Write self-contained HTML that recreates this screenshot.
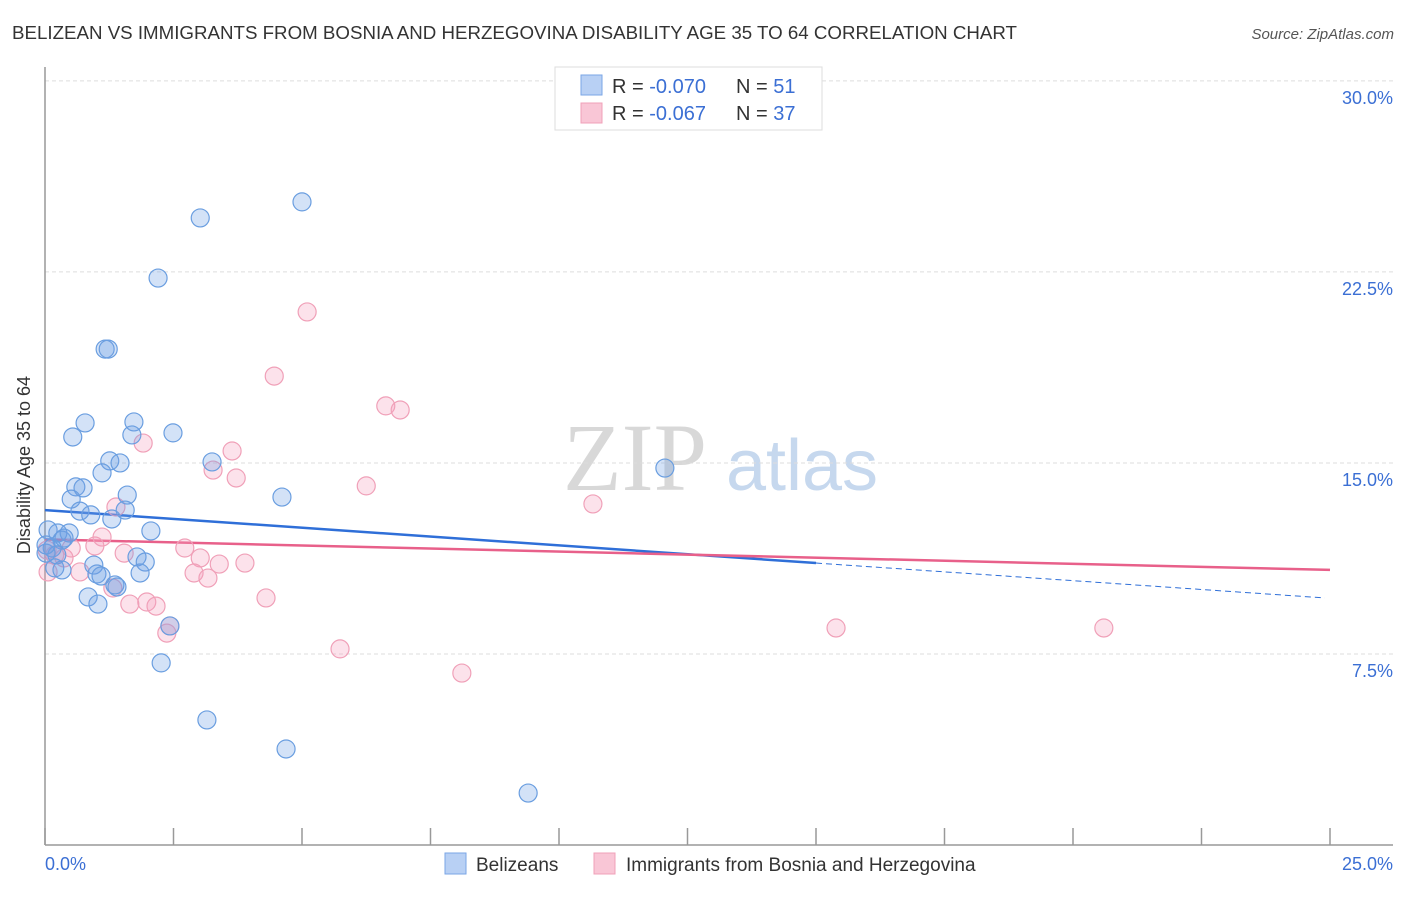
<!DOCTYPE html>
<html><head><meta charset="utf-8"><style>
body{margin:0;background:#fff;font-family:"Liberation Sans",sans-serif;}
</style></head><body>
<svg id="chart" width="1406" height="892" viewBox="0 0 1406 892" xmlns="http://www.w3.org/2000/svg">
<text x="12" y="39" font-size="18" fill="#333" textLength="1005" lengthAdjust="spacingAndGlyphs">BELIZEAN VS IMMIGRANTS FROM BOSNIA AND HERZEGOVINA DISABILITY AGE 35 TO 64 CORRELATION CHART</text>
<text x="1394" y="39" font-size="15" fill="#555" font-style="italic" text-anchor="end">Source: ZipAtlas.com</text>
<g>
<text x="635" y="490" font-size="96" font-family="Liberation Serif,serif" fill="#d8d8d8" text-anchor="middle">ZIP</text>
<text x="802" y="490" font-size="72" fill="#c6d8ee" text-anchor="middle">atlas</text>
</g>
<g id="grid"></g>
<g id="axes"></g>
<g id="trends"></g>
<g id="points"></g>
<text x="20" y="455" font-size="18" fill="#333" text-anchor="middle" transform="rotate(-90 30 455)">Disability Age 35 to 64</text>
<text x="45" y="870" font-size="18" fill="#3b6fd4">0.0%</text>
<text x="1393" y="870" font-size="18" fill="#3b6fd4" text-anchor="end">25.0%</text>
<g>
<rect x="555" y="67" width="267" height="63" fill="#fff" stroke="#ddd"/>
<rect x="581" y="75" width="21" height="20" fill="#b8d0f4" stroke="#7aa6e6"/>
<rect x="581" y="103" width="21" height="20" fill="#f9c6d6" stroke="#f0a0b8"/>
<text x="612" y="93" font-size="20" fill="#333">R = <tspan fill="#3b6fd4">-0.070</tspan><tspan x="736">N = </tspan><tspan fill="#3b6fd4">51</tspan></text>
<text x="612" y="120" font-size="20" fill="#333">R = <tspan fill="#3b6fd4">-0.067</tspan><tspan x="736">N = </tspan><tspan fill="#3b6fd4">37</tspan></text>
</g>
<g>
<rect x="445" y="853" width="21" height="21" fill="#b8d0f4" stroke="#7aa6e6"/>
<text x="476" y="871" font-size="19" fill="#333">Belizeans</text>
<rect x="594" y="853" width="21" height="21" fill="#f9c6d6" stroke="#f0a0b8"/>
<text x="626" y="871" font-size="19" fill="#333">Immigrants from Bosnia and Herzegovina</text>
</g>
</svg>
<script>
const yTicks=[7.5,15,22.5,30];
const yTickLabels=["7.5%","15.0%","22.5%","30.0%"];
const xTicks=[0,2.5,5,7.5,10,12.5,15,17.5,20,22.5,25];
const blueX=[3.02,5.00,2.20,1.17,1.23,0.78,1.73,0.54,1.69,2.49,3.25,1.26,1.46,1.11,12.06,0.60,0.74,0.51,1.60,4.61,0.68,0.89,1.30,1.56,2.06,0.06,0.25,0.47,0.33,0.37,0.14,0.23,0.02,0.19,0.33,0.95,1.01,1.09,1.36,1.40,1.79,1.95,1.85,0.84,1.03,2.43,2.26,3.15,4.69,9.40,0.02];
const blueY=[24.62,25.25,22.26,19.47,19.47,16.57,16.61,16.02,16.10,16.18,15.04,15.08,15.00,14.61,14.80,14.06,14.02,13.58,13.74,13.66,13.11,12.96,12.80,13.15,12.33,12.37,12.25,12.25,11.97,12.05,11.66,11.39,11.46,10.88,10.80,10.99,10.64,10.56,10.21,10.13,11.31,11.11,10.68,9.74,9.46,8.60,7.15,4.91,3.77,2.04,11.78];
const pinkX=[5.10,4.46,6.63,6.91,1.91,3.64,3.27,3.72,6.25,10.66,1.38,1.11,0.51,0.04,0.19,0.37,0.97,1.54,2.72,3.02,3.39,3.89,2.90,3.17,0.68,0.06,1.32,1.65,1.98,2.16,4.30,2.37,5.74,8.11,15.39,20.60,2.43];
const pinkY=[20.93,18.41,17.24,17.08,15.78,15.47,14.72,14.41,14.10,13.39,13.27,12.09,11.66,11.58,11.39,11.27,11.74,11.46,11.66,11.27,11.03,11.07,10.68,10.48,10.72,10.72,10.09,9.46,9.54,9.38,9.70,8.32,7.70,6.75,8.52,8.52,8.60];
const blueTrend=[13.15,11.07,9.70];
const blueTrendX=[0,15,24.9];
const pinkTrend=[12.0,10.8];
const pinkTrendX=[0,25];

const NS="http://www.w3.org/2000/svg";
const sx=v=>45+v*51.4;
const sy=v=>845-v*25.47;
function mk(tag,attrs,parent){const e=document.createElementNS(NS,tag);for(const k in attrs)e.setAttribute(k,attrs[k]);parent.appendChild(e);return e;}
const grid=document.getElementById('grid'),axes=document.getElementById('axes'),pts=document.getElementById('points'),tr=document.getElementById('trends');
yTicks.forEach((t,i)=>{
 const l=mk('line',{x1:45,x2:1393,y1:sy(t),y2:sy(t),stroke:'#ddd','stroke-dasharray':'4 3'},grid);
 
 
 const tx=mk('text',{x:1393,y:sy(t)+23,'font-size':18,fill:'#3b6fd4','text-anchor':'end'},grid);
 tx.textContent=yTickLabels[i];
 
 
});
const ya=mk('line',{x1:45,x2:45,y1:67,y2:845,stroke:'#999','stroke-width':1.5},axes);


const xa=mk('line',{x1:45,x2:1393,y1:845,y2:845,stroke:'#999','stroke-width':1.5},axes);


xTicks.forEach(t=>{
 const k=mk('line',{x1:sx(t),x2:sx(t),y1:828,y2:845,stroke:'#999','stroke-width':1.5},axes);
 
 
});
function dot(x,y,fill,stroke,name){
 const c=mk('circle',{cx:sx(x),cy:sy(y),r:9,fill:fill,stroke:stroke,'stroke-width':1.2},pts);
 
 
}
pinkX.forEach((x,i)=>dot(x,pinkY[i],'rgba(244,160,188,0.3)','#f0a0b8','point-immigrants'));
blueX.forEach((x,i)=>dot(x,blueY[i],'rgba(110,160,230,0.3)','#6a9ee0','point-belizeans'));
const bt=mk('line',{x1:sx(blueTrendX[0]),y1:sy(blueTrend[0]),x2:sx(blueTrendX[1]),y2:sy(blueTrend[1]),stroke:'#2f6fd8','stroke-width':2.5},tr);


const bd=mk('line',{x1:sx(blueTrendX[1]),y1:sy(blueTrend[1]),x2:sx(blueTrendX[2]),y2:sy(blueTrend[2]),stroke:'#2f6fd8','stroke-width':1,'stroke-dasharray':'6 4'},tr);


const pt=mk('line',{x1:sx(pinkTrendX[0]),y1:sy(pinkTrend[0]),x2:sx(pinkTrendX[1]),y2:sy(pinkTrend[1]),stroke:'#e8608a','stroke-width':2.5},tr);


</script>
</body></html>
